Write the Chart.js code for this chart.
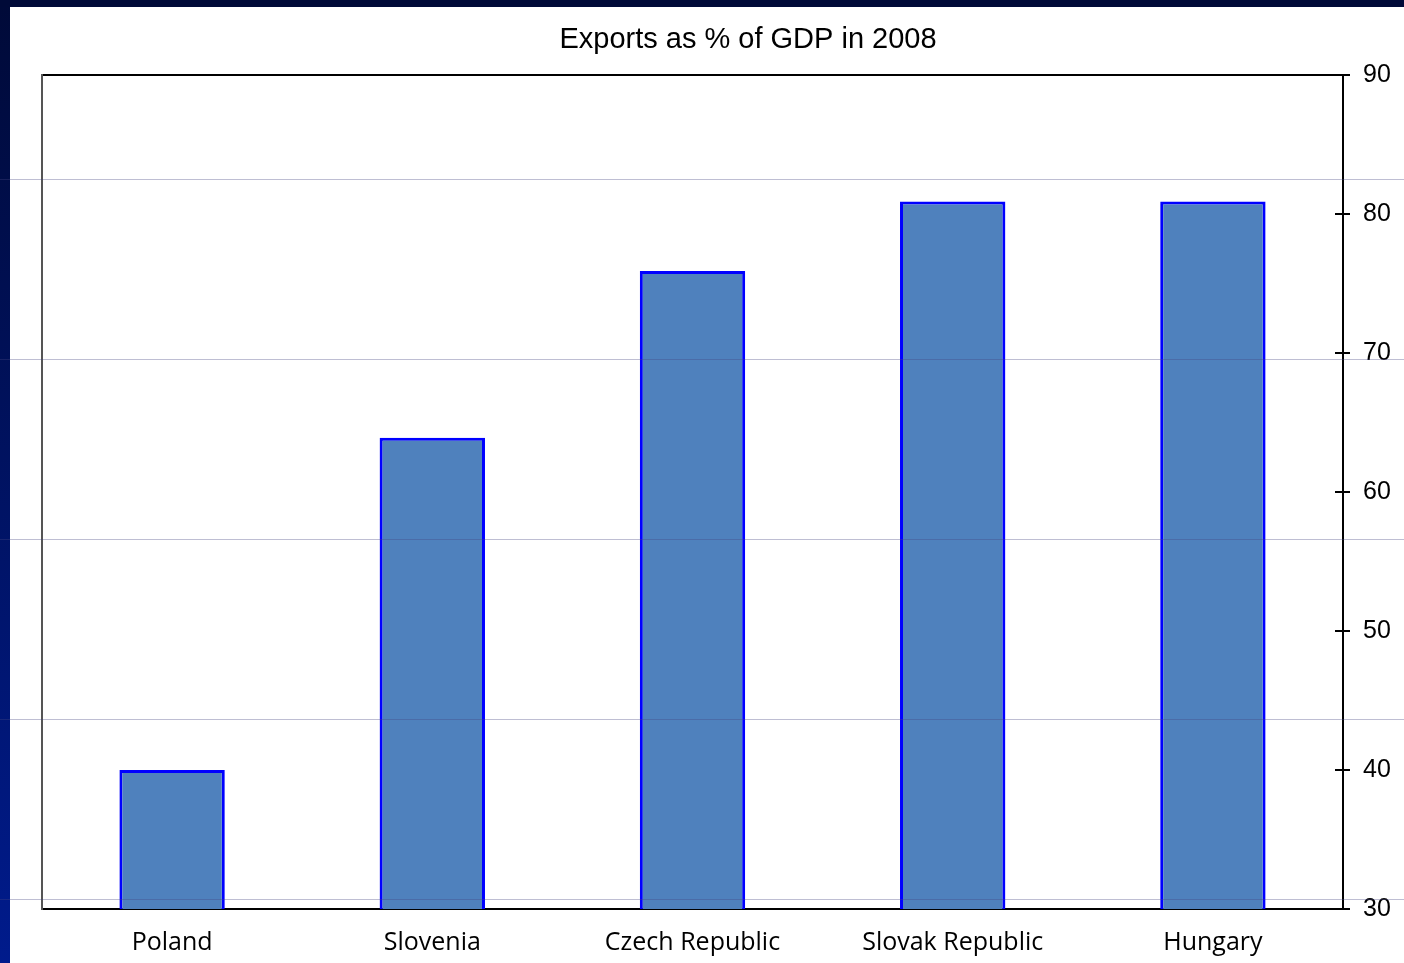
<!DOCTYPE html>
<html lang="en">
<head>
    <meta charset="UTF-8">
    <script src="https://cdn.jsdelivr.net/npm/chart.js"></script>
    <title>Exports as % of GDP in 2008</title>
    <style>
        html, body { margin: 0; padding: 0; background: #fff; }
        #wrap { width: 1404px; height: 963px; }
    </style>
</head>
<body>
    <div id="wrap"><canvas id="myChart"></canvas></div>

<script>
    const titleText = 'Exports as % of GDP in 2008';
    const countries = ['Poland', 'Slovenia', 'Czech Republic', 'Slovak Republic', 'Hungary'];
    const exportsPct = [40, 63.9, 75.9, 80.9, 80.9];
    const yTicks = [30, 40, 50, 60, 70, 80, 90];

    // slide background: navy bands on top and left, thin grey rules over everything
    const slideBackground = {
        id: 'slideBackground',
        beforeDraw(chart) {
            const c = chart.ctx;
            const w = chart.width, h = chart.height;
            c.save();
            c.fillStyle = '#ffffff';
            c.fillRect(0, 0, w, h);
            const g = c.createLinearGradient(0, 0, 0, h);
            g.addColorStop(0, '#000a38');
            g.addColorStop(1, '#001b8c');
            c.fillStyle = g;
            c.fillRect(0, 0, 10, h);
            c.fillStyle = '#000a38';
            c.fillRect(0, 0, w, 7);
            c.restore();
        },
        afterDraw(chart) {
            const c = chart.ctx;
            c.save();
            c.strokeStyle = 'rgba(70,70,130,0.35)';
            c.lineWidth = 1;
            for (let y = 179.5; y < chart.height; y += 180) {
                c.beginPath();
                c.moveTo(0, y);
                c.lineTo(chart.width, y);
                c.stroke();
            }
            c.restore();
        }
    };

    // plot frame, crossing tick marks on the right axis and the title
    const frame = {
        id: 'frame',
        beforeDatasetsDraw(chart) {
            const c = chart.ctx;
            const a = chart.chartArea;
            const y = chart.scales.y;
            c.save();
            c.lineWidth = 2;
            c.strokeStyle = '#000';
            c.beginPath();
            c.moveTo(a.left, a.top);
            c.lineTo(a.right, a.top);
            c.moveTo(a.left, a.bottom);
            c.lineTo(a.right + 7, a.bottom);
            c.stroke();
            c.strokeStyle = '#555';
            c.beginPath();
            c.moveTo(a.left, a.top - 1);
            c.lineTo(a.left, a.bottom + 1);
            c.stroke();
            c.strokeStyle = '#000';
            c.beginPath();
            c.moveTo(a.right, a.top);
            c.lineTo(a.right, a.bottom);
            yTicks.forEach(v => {
                const py = Math.round(y.getPixelForValue(v));
                c.moveTo(a.right - 8, py);
                c.lineTo(a.right + 7, py);
            });
            c.stroke();

            c.fillStyle = '#000';
            c.font = '29px "Liberation Sans", Arial, sans-serif';
            c.textAlign = 'center';
            c.textBaseline = 'middle';
            c.fillText(titleText, 748, 40);
            c.restore();
        }
    };

    const ctx = document.getElementById('myChart');

    new Chart(ctx, {
        type: 'bar',
        data: {
            labels: countries,
            datasets: [{
                label: 'Exports as % of GDP',
                data: exportsPct,
                backgroundColor: '#4f81bd',
                borderColor: '#0000ff',
                borderWidth: 3,
                borderSkipped: false,
                barPercentage: 0.405,
                categoryPercentage: 1.0
            }]
        },
        options: {
            responsive: true,
            maintainAspectRatio: false,
            animation: false,
            layout: { padding: { left: 42, top: 75, right: 0, bottom: 0 } },
            plugins: {
                legend: { display: false },
                title: { display: false },
                tooltip: { enabled: false }
            },
            scales: {
                x: {
                    grid: { display: false, drawTicks: false },
                    border: { display: false },
                    ticks: {
                        padding: 19,
                        color: '#000',
                        font: { family: '"Open Sans", sans-serif', size: 25 }
                    },
                    afterFit(scale) { scale.height = 54; }
                },
                y: {
                    position: 'right',
                    min: 30,
                    max: 90,
                    grid: { display: false, drawTicks: false },
                    border: { display: false },
                    ticks: {
                        stepSize: 10,
                        padding: 20,
                        color: '#000',
                        font: { family: '"Liberation Sans", Arial, sans-serif', size: 25 }
                    },
                    afterFit(scale) { scale.width = 61; }
                }
            }
        },
        plugins: [slideBackground, frame]
    });
</script>
</body>
</html>
